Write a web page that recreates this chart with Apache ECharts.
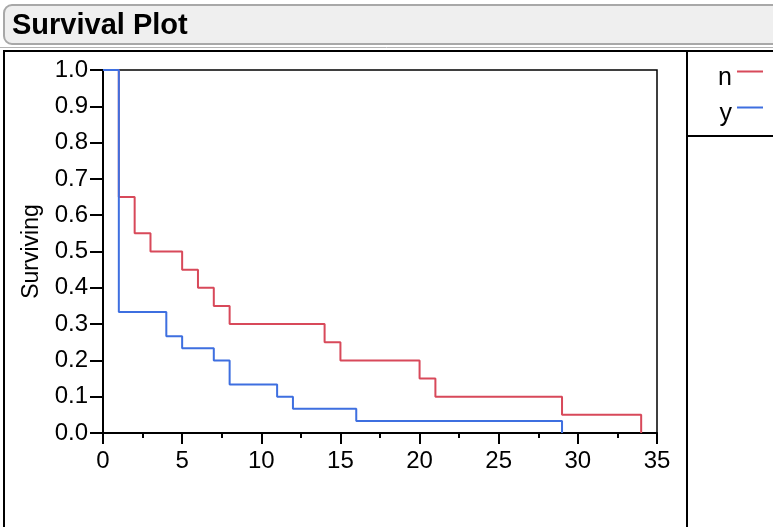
<!DOCTYPE html>
<html>
<head>
    <meta charset="utf-8">
    <script src="https://cdn.jsdelivr.net/npm/echarts@6/dist/echarts.min.js"></script>
</head>
<style>
    body {
        margin: 0;
        background: #fff;
    }

    #chart {
        width: 773px;
        height: 527px;
    }
</style>
<body>
    <div id="chart"></div>
    <script>
        // Kaplan-Meier steps
        const nTimes = [0, 1, 2, 3, 5, 6, 7, 8, 14, 15, 20, 21, 29, 34]
        const nSurv = [1, 0.65, 0.55, 0.5, 0.45, 0.4, 0.35, 0.3, 0.25, 0.2, 0.15, 0.1, 0.05, 0]
        const yTimes = [0, 1, 4, 5, 7, 8, 11, 12, 16, 29]
        const ySurv = [1, 0.3333, 0.2667, 0.2333, 0.2, 0.1333, 0.1, 0.0667, 0.0333, 0]
        const groups = ['n', 'y']

        const red = '#d8495a'
        const blue = '#3e6fe0'
        const font = 'Liberation Sans, Arial, sans-serif'

        function pairs(xs, ys) {
            return xs.map(function (x, i) {
                return [x, ys[i]]
            })
        }

        const chart = echarts.init(document.getElementById('chart'))

        const option = {
            animation: false,
            textStyle: { fontFamily: font },
            grid: {
                left: 103,
                right: 116,
                top: 70,
                bottom: 94,
                show: true,
                borderColor: '#000',
                borderWidth: 1.5
            },
            legend: {
                orient: 'vertical',
                right: 5,
                top: 61,
                align: 'right',
                itemWidth: 26,
                itemHeight: 16,
                itemGap: 11,
                // line sits at the top of the icon box, so the label hangs below it
                icon: 'path://M0,0H26V2H0Z M0,16H0.01V16.01H0Z',
                textStyle: {
                    fontSize: 25,
                    color: '#000'
                },
                data: groups
            },
            xAxis: {
                type: 'value',
                min: 0,
                max: 35,
                interval: 5,
                axisLine: { lineStyle: { color: '#000', width: 2 } },
                axisTick: { length: 11, lineStyle: { color: '#000', width: 2 } },
                minorTick: { show: true, splitNumber: 2, length: 5, lineStyle: { color: '#000', width: 2 } },
                splitLine: { show: false },
                axisLabel: { color: '#000', fontSize: 24, margin: 16 }
            },
            yAxis: {
                type: 'value',
                min: 0,
                max: 1,
                interval: 0.1,
                name: 'Surviving',
                nameLocation: 'middle',
                nameGap: 60,
                nameTextStyle: { color: '#000', fontSize: 23 },
                axisLine: { show: true, lineStyle: { color: '#000', width: 2 } },
                axisTick: { show: true, length: 13, lineStyle: { color: '#000', width: 2 } },
                splitLine: { show: false },
                axisLabel: {
                    color: '#000',
                    fontSize: 24,
                    margin: 15,
                    formatter: function (v) {
                        return v.toFixed(1)
                    }
                }
            },
            series: [{
                name: 'n',
                type: 'line',
                step: 'end',
                showSymbol: false,
                color: red,
                lineStyle: { width: 2 },
                data: pairs(nTimes, nSurv)
            }, {
                name: 'y',
                type: 'line',
                step: 'end',
                showSymbol: false,
                color: blue,
                lineStyle: { width: 2 },
                data: pairs(yTimes, ySurv)
            }],
            graphic: [
                // title bar
                {
                    type: 'rect',
                    shape: { x: 4, y: 5, width: 790, height: 39, r: 8 },
                    style: { fill: '#efefef', stroke: '#a8a8a8', lineWidth: 2 }
                },
                {
                    type: 'text',
                    x: 12,
                    y: 26,
                    style: {
                        text: 'Survival Plot',
                        font: 'bold 29px ' + font,
                        fill: '#000',
                        verticalAlign: 'middle'
                    }
                },
                // outline frame
                {
                    type: 'line',
                    shape: { x1: 0, y1: 47.5, x2: 773, y2: 47.5 },
                    style: { stroke: '#b4b4b4', lineWidth: 1 }
                },
                {
                    type: 'rect',
                    shape: { x: 4, y: 51, width: 800, height: 500 },
                    style: { fill: null, stroke: '#000', lineWidth: 2 }
                },
                {
                    type: 'line',
                    shape: { x1: 687, y1: 51, x2: 687, y2: 527 },
                    style: { stroke: '#000', lineWidth: 2 }
                },
                {
                    type: 'line',
                    shape: { x1: 687, y1: 136, x2: 773, y2: 136 },
                    style: { stroke: '#000', lineWidth: 2 }
                }
            ]
        }

        chart.setOption(option)
    </script>
</body>
</html>
